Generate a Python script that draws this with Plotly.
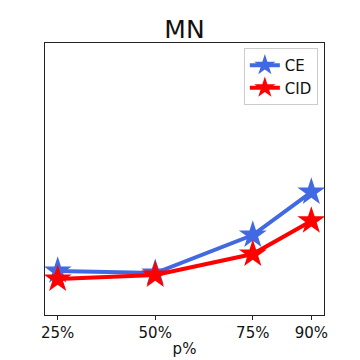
import plotly.graph_objects as go

p_values = [25, 50, 75, 90]
tick_labels = ["25%", "50%", "75%", "90%"]
ce_values = [0.162, 0.154, 0.294, 0.452]
cid_values = [0.132, 0.147, 0.224, 0.346]

fig = go.Figure()
fig.add_trace(go.Scatter(x=p_values, y=ce_values, name="CE", mode="lines+markers",
                         line=dict(color="royalblue", width=4),
                         marker=dict(symbol="star", size=21, color="royalblue", line=dict(width=0))))
fig.add_trace(go.Scatter(x=p_values, y=cid_values, name="CID", mode="lines+markers",
                         line=dict(color="red", width=4),
                         marker=dict(symbol="star", size=21, color="red", line=dict(width=0))))

fig.update_layout(
    width=360, height=360,
    margin=dict(l=45, r=36, t=43, b=45, autoexpand=False),
    paper_bgcolor="white", plot_bgcolor="white",
    font=dict(family="DejaVu Sans", color="#111", size=15),
    title=dict(text="MN", x=0.5 * (45 + 324) / 360, xanchor="center", y=1 - 29/360, yanchor="middle",
               font=dict(size=25)),
    xaxis=dict(range=[21.75, 93.25], tickvals=p_values, ticktext=tick_labels,
               showgrid=False, zeroline=False, showline=True, linecolor="#222", linewidth=1,
               mirror=True, ticks="outside", ticklen=4, tickcolor="#222", automargin=False,
               tickfont=dict(size=15),
               title=dict(text="p%", standoff=2, font=dict(size=15))),
    yaxis=dict(range=[0, 1], showticklabels=False, showgrid=False, zeroline=False,
               showline=True, linecolor="#222", linewidth=1, mirror=True, ticks="",
               automargin=False),
    legend=dict(x=0.978, y=(315 - 48) / 272, xanchor="right", yanchor="top",
                bgcolor="rgba(255,255,255,0.8)", bordercolor="#ccc", borderwidth=1,
                font=dict(size=15), itemwidth=30, tracegroupgap=0),
    showlegend=True,
)

fig.write_html("out.html", config={"displayModeBar": False},
               post_script="document.body.style.margin='0';document.body.style.padding='0';")
